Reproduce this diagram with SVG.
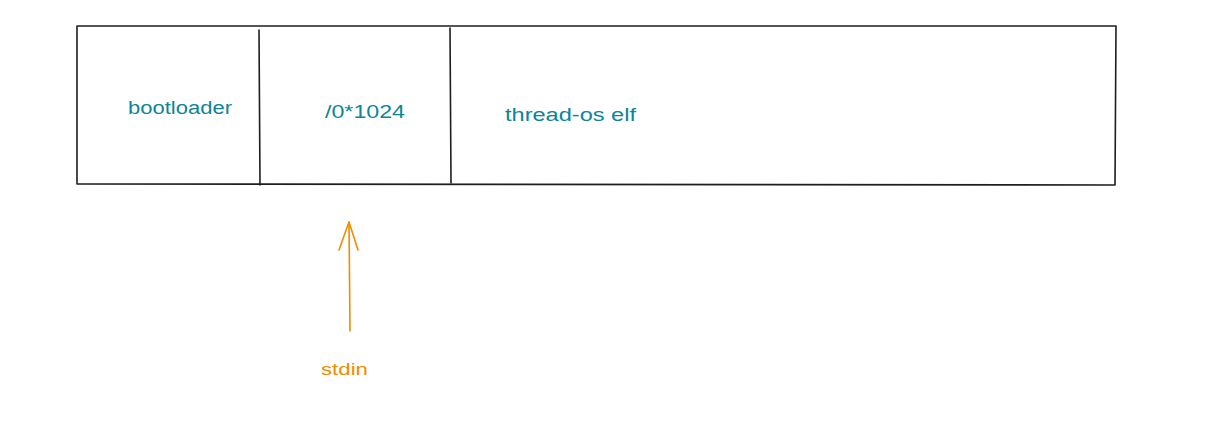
<svg xmlns="http://www.w3.org/2000/svg" width="1221" height="421" viewBox="0 0 1221 421">
<style>
.box{fill:none;stroke:#1e1e1e;stroke-width:1.6;stroke-linecap:round;stroke-linejoin:round}
.lbl{font-family:"Liberation Sans",Arial,sans-serif;font-size:18px;fill:#0c8599}
.org{font-family:"Liberation Sans",Arial,sans-serif;font-size:17px;fill:#f08c00}
.arr{fill:none;stroke:#f08c00;stroke-width:1.6;stroke-linecap:round;stroke-linejoin:round}
</style>
<rect width="1221" height="421" fill="#ffffff"/>
<g id="memory">
<path class="box" d="M77 26 L1116 26 L1115 185 L77 184 Z"/>
</g>
<g id="bootloader">
<line class="box" x1="259" y1="30" x2="260" y2="185"/>
<text class="lbl" x="128" y="114" textLength="104" lengthAdjust="spacingAndGlyphs">bootloader</text>
</g>
<g id="zeros">
<line class="box" x1="450" y1="28" x2="451" y2="183"/>
<text class="lbl" x="325" y="118" textLength="80" lengthAdjust="spacingAndGlyphs">/0*1024</text>
</g>
<g id="elf">
<text class="lbl" x="505" y="121" textLength="131" lengthAdjust="spacingAndGlyphs">thread-os elf</text>
</g>
<g id="stdin">
<text class="org" x="321" y="375" textLength="47" lengthAdjust="spacingAndGlyphs">stdin</text>
</g>
<g id="connectors">
<path class="arr" d="M350 331 L349 222"/>
<path class="arr" d="M339 250 L349 222 L358 250"/>
</g>
</svg>
